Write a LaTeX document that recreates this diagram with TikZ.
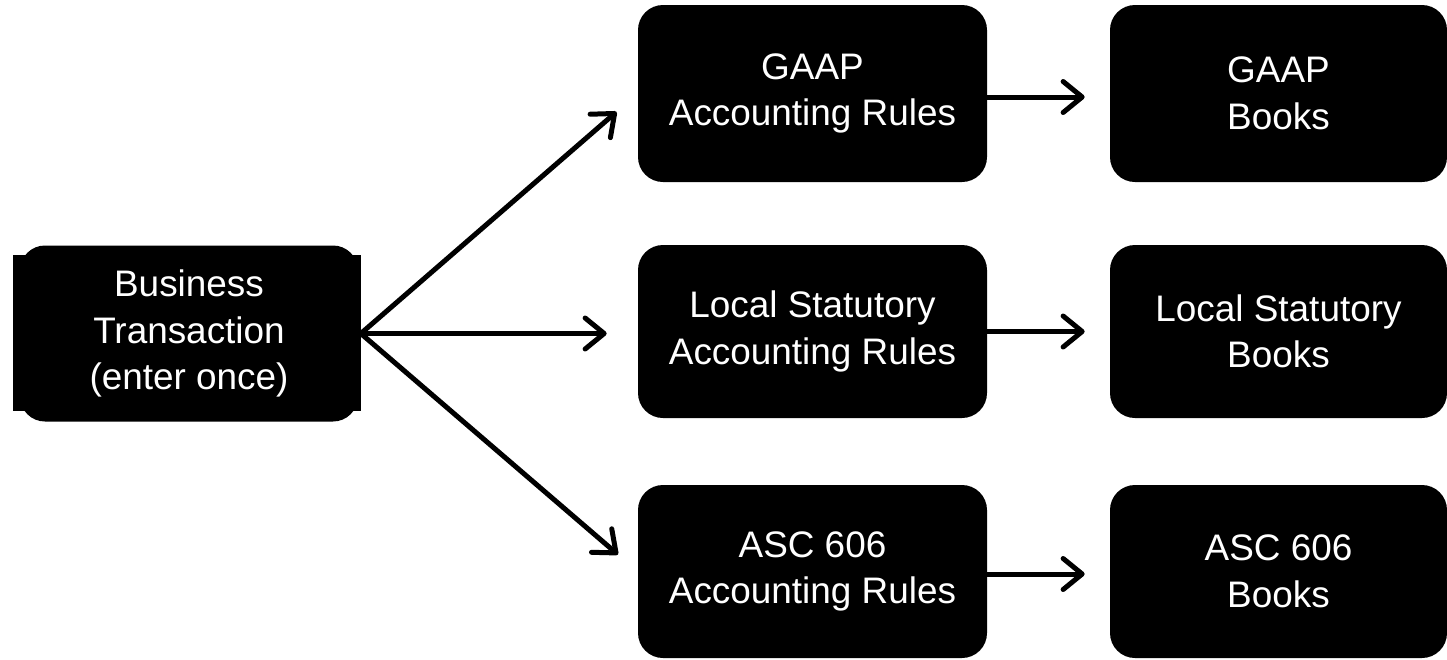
\documentclass[tikz,border=0pt]{standalone}
\usepackage{fontspec}
\setmainfont{Liberation Sans}
\usetikzlibrary{positioning,arrows.meta}
\usetikzlibrary{math}
\tikzset{
    blackbox/.style={draw=none, fill=black, text=white, rounded corners=0.5cm,
        align=center, inner sep=0pt,
        font=\fontsize{21pt}{26.5pt}\selectfont},
    rulebox/.style={blackbox, minimum width=6.98cm, minimum height=3.46cm},
    bookbox/.style={blackbox, minimum width=6.74cm, minimum height=3.46cm},
    flow/.style={draw, line width=0.1cm, line cap=round,
        -{Straight Barb[length=0.38cm, width=0.62cm, line width=0.1cm, line cap=round, line join=round]}},
}

\begin{document}
\begin{tikzpicture}[
    >=stealth,
    scale=1.00,
  ]

  \tikzmath{
    \colrules = 16.25; % x of the rules column
    \colbooks = 25.57; % x of the books column
    \rowtop   = -1.87; % y of the first row
    \rowmid   = -6.63; % y of the second row
    \rowbot   = -11.43; % y of the third row
  }

  \useasboundingbox (0,0) rectangle (28.94,-13.18);

  % -----------
  % Input block
  % -----------

  % square backing behind the rounded box
  \fill (0.26,-5.10) rectangle (7.22,-8.22);
  \node[blackbox, minimum width=6.76cm, minimum height=3.52cm] (biz) at (3.78,-6.67)
    {Business\\Transaction\\(enter once)};

  % -----------
  % Rules column
  % -----------

  \node[rulebox, minimum height=3.54cm] (gaaprules) at (\colrules, \rowtop) {GAAP\\Accounting Rules};
  \node[rulebox] (statrules) at (\colrules, \rowmid) {Local Statutory\\Accounting Rules};
  \node[rulebox] (ascrules)  at (\colrules, \rowbot) {ASC 606\\Accounting Rules};

  % -----------
  % Books column
  % -----------

  \node[bookbox, minimum height=3.54cm] (gaapbooks) at (\colbooks, \rowtop) {GAAP\\Books};
  \node[bookbox] (statbooks) at (\colbooks, \rowmid) {Local Statutory\\Books};
  \node[bookbox] (ascbooks)  at (\colbooks, \rowbot) {ASC 606\\Books};

  % Arrows out of the transaction
  \draw[flow, shorten >=0.56cm] ([xshift=0.05cm]biz.east) -- (gaaprules.west);
  \draw[flow, shorten >=0.62cm] ([xshift=0.05cm]biz.east) -- (statrules.west |- biz.east);
  \draw[flow, shorten >=0.52cm] ([xshift=0.05cm]biz.east) -- (ascrules.west);

  % Arrows into the books
  \draw[flow, shorten >=0.5cm] ([yshift=-0.07cm]gaaprules.east) -- ([yshift=-0.07cm]gaapbooks.west);
  \draw[flow, shorten >=0.5cm] (statrules.east) -- (statbooks.west);
  \draw[flow, shorten >=0.5cm] ([yshift=-0.05cm]ascrules.east) -- ([yshift=-0.05cm]ascbooks.west);

\end{tikzpicture}
\end{document}
